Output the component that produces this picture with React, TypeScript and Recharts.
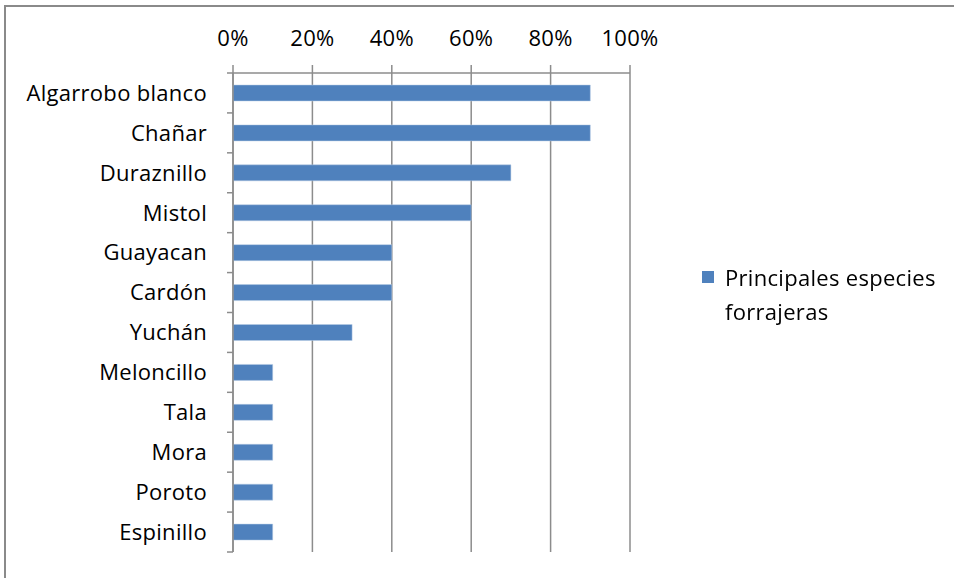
import React from "react";
import { BarChart, Bar, XAxis, YAxis, CartesianGrid, Text } from "recharts";

const categories = [
  "Algarrobo blanco",
  "Chañar",
  "Duraznillo",
  "Mistol",
  "Guayacan",
  "Cardón",
  "Yuchán",
  "Meloncillo",
  "Tala",
  "Mora",
  "Poroto",
  "Espinillo",
];
const values = [0.9, 0.9, 0.7, 0.6, 0.4, 0.4, 0.3, 0.1, 0.1, 0.1, 0.1, 0.1];
const xTicks = [0, 0.2, 0.4, 0.6, 0.8, 1];
const seriesName = "Principales especies forrajeras";

const data = categories.map((name, i) => ({ name, value: values[i] }));

const W = 954;
const H = 578;
const X_AXIS_H = 30;
const M = { top: 73 - X_AXIS_H, right: 324, bottom: 26, left: 0 };
const Y_WIDTH = 233;
const PLOT_H = H - 73 - M.bottom;
const BAND = PLOT_H / categories.length;
const FONT = "'Open Sans', 'Noto Sans', sans-serif";
const FS = 22;
const LS = 0.3;
const AXIS_COLOR = "#8c8c8c";
const TICK_SIZE = 6;
const TICK_MARGIN = 20;

const YTick = (props: any) => {
  const { x, y, payload, index } = props;
  const axisX = x + TICK_SIZE + TICK_MARGIN;
  return (
    <g>
      <Text
        x={x}
        y={y}
        textAnchor="end"
        verticalAnchor="middle"
        fontSize={FS}
        fontFamily={FONT}
        fill="#000"
        style={{ letterSpacing: LS }}
      >
        {payload.value}
      </Text>
      {index === 0 && (
        <line x1={axisX - TICK_SIZE} x2={axisX} y1={y - BAND / 2} y2={y - BAND / 2} stroke={AXIS_COLOR} strokeWidth={1.5} />
      )}
      <line x1={axisX - TICK_SIZE} x2={axisX} y1={y + BAND / 2} y2={y + BAND / 2} stroke={AXIS_COLOR} strokeWidth={1.5} />
    </g>
  );
};

export default function App() {
  return (
    <div style={{ position: "fixed", left: 0, top: 0, width: W, height: H, background: "#fff" }}>
      <div
        style={{
          position: "absolute",
          left: 4,
          top: 5,
          right: -10,
          bottom: -10,
          borderTop: "2px solid #8a8a8a",
          borderLeft: "2px solid #8a8a8a",
        }}
      />
      <div style={{ position: "absolute", left: 0, top: 0 }}>
        <BarChart width={W} height={H} data={data} layout="vertical" margin={M} barCategoryGap={0}>
          <CartesianGrid vertical={true} horizontal={false} stroke={AXIS_COLOR} strokeWidth={1.5} verticalValues={xTicks} />
          <XAxis
            type="number"
            orientation="top"
            height={X_AXIS_H}
            domain={[0, 1]}
            ticks={xTicks}
            tickFormatter={(v: number) => `${Math.round(v * 100)}%`}
            axisLine={{ stroke: AXIS_COLOR, strokeWidth: 1.5 }}
            tickLine={{ stroke: AXIS_COLOR, strokeWidth: 1.5 }}
            tickSize={8}
            tickMargin={19}
            tick={{ fontSize: FS, fontFamily: FONT, fill: "#000", style: { letterSpacing: LS } }}
            interval={0}
          />
          <YAxis
            type="category"
            dataKey="name"
            width={Y_WIDTH}
            axisLine={{ stroke: AXIS_COLOR, strokeWidth: 1.5 }}
            tickLine={false}
            tickSize={TICK_SIZE}
            tickMargin={TICK_MARGIN}
            tick={<YTick />}
            interval={0}
          />
          <Bar dataKey="value" name={seriesName} fill="#4F81BD" stroke="#B9CDE5" strokeWidth={0.5} barSize={16} isAnimationActive={false} />
        </BarChart>
      </div>
      <div
        style={{
          position: "absolute",
          left: 702,
          top: 260,
          display: "flex",
          alignItems: "flex-start",
          fontFamily: FONT,
          fontSize: FS,
          letterSpacing: LS,
          color: "#000",
          lineHeight: "34px",
        }}
      >
        <div style={{ width: 12, height: 12, background: "#4F81BD", marginTop: 11, marginRight: 11, flexShrink: 0 }} />
        <div style={{ width: 235 }}>{seriesName}</div>
      </div>
    </div>
  );
}
